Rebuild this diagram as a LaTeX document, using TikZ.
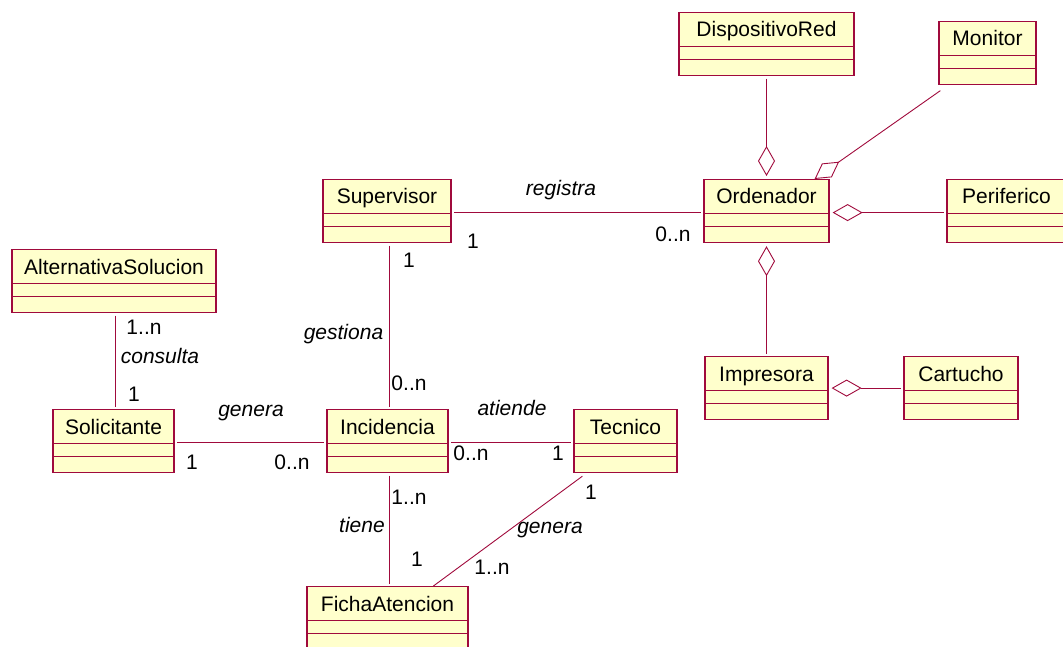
\documentclass[tikz,border=0pt]{standalone}
\usepackage{fontspec}
\setmainfont{Liberation Sans}
\usetikzlibrary{arrows.meta,calc}

\definecolor{umlred}{RGB}{160,10,60}
\definecolor{umlfill}{RGB}{255,255,204}

\tikzset{
  cls/.style={draw=umlred, fill=umlfill, line width=1.2pt, rectangle,
              inner sep=0pt, minimum height=63pt, anchor=north},
  divider/.style={draw=umlred, line width=1.2pt},
  clsname/.style={font=\fontsize{21}{25}\selectfont, inner sep=0pt, anchor=base},
  assoc/.style={draw=umlred, line width=0.9pt, shorten <=2.5pt, shorten >=2.5pt},
  agg/.style={draw=umlred, line width=0.9pt, shorten <=2.5pt, shorten >=3pt,
              -{Diamond[open, length=30pt, width=17pt, line width=0.9pt]}},
  role/.style={font=\fontsize{21}{25}\selectfont\itshape, inner sep=0pt, anchor=base},
  mult/.style={font=\fontsize{21}{25}\selectfont, inner sep=0pt, anchor=base},
}

% class box: id, centre x, top y, width, title
\newcommand\umlclass[5]{%
  \node[cls, minimum width=#4pt] (#1) at (#2,#3) {};
  \node[clsname] (#1-t) at ($(#1.north)+(0,25)$) {#5};
  \draw[divider] ($(#1.north west)+(0,34.5)$) -- ($(#1.north east)+(0,34.5)$);
  \draw[divider] ($(#1.north west)+(0,47.5)$) -- ($(#1.north east)+(0,47.5)$);
}

\begin{document}
\begin{tikzpicture}[x=1pt, y=-1pt]
\useasboundingbox (0,0) rectangle (1063,647);

% classes
\umlclass{dis}{766.5}{12}{175}{DispositivoRed}
\umlclass{mon}{987.5}{21}{97}{Monitor}
\umlclass{ord}{766.5}{179}{125}{Ordenador}
\umlclass{per}{1006.5}{179}{119}{Periferico}
\umlclass{sup}{387}{179}{128}{Supervisor}
\umlclass{imp}{766.5}{356}{123}{Impresora}
\umlclass{car}{961}{356}{114}{Cartucho}
\umlclass{alt}{114}{249}{204}{AlternativaSolucion}
\umlclass{sol}{113.5}{409}{121}{Solicitante}
\umlclass{inc}{387.5}{409}{121}{Incidencia}
\umlclass{tec}{625.5}{409}{103}{Tecnico}
\umlclass{fic}{387.5}{586}{161}{FichaAtencion}

% aggregations into Ordenador and Impresora
\draw[agg] (dis.south) -- (ord.north);
\draw[agg, shorten >=0pt] ($(mon.south west)+(4,4)$) -- ($(ord.north east)+(-15,0)$);
\draw[agg] ($(per.west)+(0,1.5)$) -- ($(ord.east)+(0,1.5)$);
\draw[agg] (imp.north) -- (ord.south);
\draw[agg] (car.west) -- (imp.east);

% associations
\draw[assoc] ($(sup.east)+(0,1.5)$) -- ($(ord.west)+(0,1.5)$);
\draw[assoc] ($(sup.south)+(2,0)$) -- ($(inc.north)+(1.5,0)$);
\draw[assoc] ($(alt.south)+(1,0)$) -- ($(sol.north)+(1.5,0)$);
\draw[assoc] ($(sol.east)+(0,1.5)$) -- ($(inc.west)+(0,1.5)$);
\draw[assoc] ($(inc.east)+(0,1.5)$) -- ($(tec.west)+(0,1.5)$);
\draw[assoc] ($(inc.south)+(1.5,0)$) -- ($(fic.north)+(1.5,0)$);
\draw[assoc, shorten <=0pt, shorten >=0pt] ($(tec.south west)+(9,3)$) -- ($(fic.north west)+(127,0)$);

% association names
\node[role] (l-registra) at (561,196) {registra};
\node[role] (l-gestiona) at (343.5,339) {gestiona};
\node[role] (l-consulta) at (160,363) {consulta};
\node[role] (l-genera1) at (251,416) {genera};
\node[role] (l-atiende) at (512,415) {atiende};
\node[role] (l-tiene) at (362,532) {tiene};
\node[role] (l-genera2) at (550,533) {genera};

% multiplicities
\node[mult] (m1) at (473,248) {1};
\node[mult] (m2) at (673,242) {0..n};
\node[mult] (m3) at (409,268) {1};
\node[mult] (m4) at (409,390) {0..n};
\node[mult] (m5) at (144,334) {1..n};
\node[mult] (m6) at (134,401) {1};
\node[mult] (m7) at (192,469) {1};
\node[mult] (m8) at (292,469) {0..n};
\node[mult] (m9) at (471,460) {0..n};
\node[mult] (m10) at (558,460) {1};
\node[mult] (m11) at (409,504) {1..n};
\node[mult] (m12) at (417,566) {1};
\node[mult] (m13) at (591,499) {1};
\node[mult] (m14) at (492,574) {1..n};
\end{tikzpicture}
\end{document}
